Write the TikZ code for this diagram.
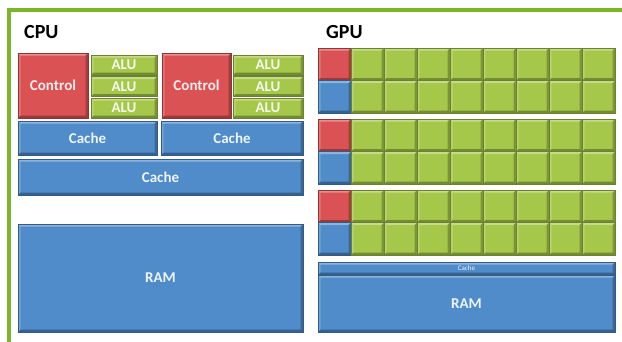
\documentclass[tikz,border=0pt]{standalone}
\usepackage{fontspec}
\setmainfont{Carlito}
\usetikzlibrary{positioning}

\definecolor{framegreen}{RGB}{122,183,40}
\definecolor{ctlred}{RGB}{219,82,84}
\definecolor{alugreen}{RGB}{166,200,74}
\definecolor{cacheblue}{RGB}{80,140,202}

\tikzset{
  blk/.style={draw=#1!65!black, line width=0.7pt, fill=#1, inner sep=0pt,
    text=white!90!#1, font=\fontsize{15}{15}\selectfont\bfseries},
  bevel/.style={path picture={
    \fill[white, opacity=0.35] (path picture bounding box.north west) -- (path picture bounding box.north east)
      -- ([shift={(-2.5pt,-2.5pt)}]path picture bounding box.north east) -- ([shift={(2.5pt,-2.5pt)}]path picture bounding box.north west) -- cycle;
    \fill[white, opacity=0.2] (path picture bounding box.north west) -- (path picture bounding box.south west)
      -- ([shift={(2.5pt,2.5pt)}]path picture bounding box.south west) -- ([shift={(2.5pt,-2.5pt)}]path picture bounding box.north west) -- cycle;
    \fill[black, opacity=0.3] (path picture bounding box.south west) -- (path picture bounding box.south east)
      -- ([shift={(-2.5pt,2.5pt)}]path picture bounding box.south east) -- ([shift={(2.5pt,2.5pt)}]path picture bounding box.south west) -- cycle;
    \fill[black, opacity=0.25] (path picture bounding box.north east) -- (path picture bounding box.south east)
      -- ([shift={(-2.5pt,2.5pt)}]path picture bounding box.south east) -- ([shift={(-2.5pt,-2.5pt)}]path picture bounding box.north east) -- cycle;
  }},
  ctlbox/.style={blk=ctlred, bevel},
  alubox/.style={blk=alugreen, bevel},
  cachebox/.style={blk=cacheblue, bevel},
  title/.style={anchor=base west, inner sep=0pt, font=\fontsize{20}{20}\selectfont\bfseries},
}

\begin{document}
\begin{tikzpicture}[x=1pt, y=-1pt]
    \useasboundingbox (0,0) rectangle (622,341);

    % Frame
    \draw[framegreen, line width=4pt] (9,345) -- (9,10) -- (626,10);

    % Titles
    \node[title] (cpu) at (24,38) {CPU};
    \node[title] (gpu) at (326,38) {GPU};

    % CPU cores
    \node[ctlbox, minimum width=70pt, minimum height=65pt] (ctlA) at (53,85.5) {Control};
    \node[alubox, minimum width=66pt, minimum height=20pt] (aluA1) at (124,65) {ALU};
    \node[alubox, minimum width=66pt, minimum height=20pt] (aluA2) at (124,86.5) {ALU};
    \node[alubox, minimum width=66pt, minimum height=20pt] (aluA3) at (124,108) {ALU};

    \node[ctlbox, minimum width=69pt, minimum height=65pt] (ctlB) at (196.5,85.5) {Control};
    \node[alubox, minimum width=70pt, minimum height=20pt] (aluB1) at (268,65) {ALU};
    \node[alubox, minimum width=70pt, minimum height=20pt] (aluB2) at (268,86.5) {ALU};
    \node[alubox, minimum width=70pt, minimum height=20pt] (aluB3) at (268,108) {ALU};

    % CPU caches and memory
    \node[cachebox, minimum width=139pt, minimum height=34pt] (cacheA) at (87.5,138) {Cache};
    \node[cachebox, minimum width=142pt, minimum height=34pt] (cacheB) at (232,138) {Cache};
    \node[cachebox, minimum width=285pt, minimum height=36pt] (cacheL) at (160.5,177) {Cache};
    \node[cachebox, minimum width=285pt, minimum height=108pt] (ramC) at (160.5,278) {RAM};

    % GPU blocks
    \foreach \g [count=\gi] in {48,119,190} {
      \node[ctlbox, minimum width=33pt, minimum height=32.5pt] (gctl\gi) at (334.5,{\g+16.25}) {};
      \node[cachebox, minimum width=33pt, minimum height=32.5pt] (gmem\gi) at (334.5,{\g+48.75}) {};
      \foreach \c in {1,...,8} {
        \node[alubox, minimum width=33pt, minimum height=32.5pt] (galu\gi-\c-a) at ({334.5+33*\c},{\g+16.25}) {};
        \node[alubox, minimum width=33pt, minimum height=32.5pt] (galu\gi-\c-b) at ({334.5+33*\c},{\g+48.75}) {};
      }
    }

    % GPU cache and memory
    \node[cachebox, minimum width=297pt, minimum height=13pt, font=\fontsize{7}{7}\selectfont] (cacheG) at (466.5,268.5) {Cache};
    \node[cachebox, minimum width=297pt, minimum height=57pt] (ramG) at (466.5,303.5) {RAM};
\end{tikzpicture}
\end{document}
